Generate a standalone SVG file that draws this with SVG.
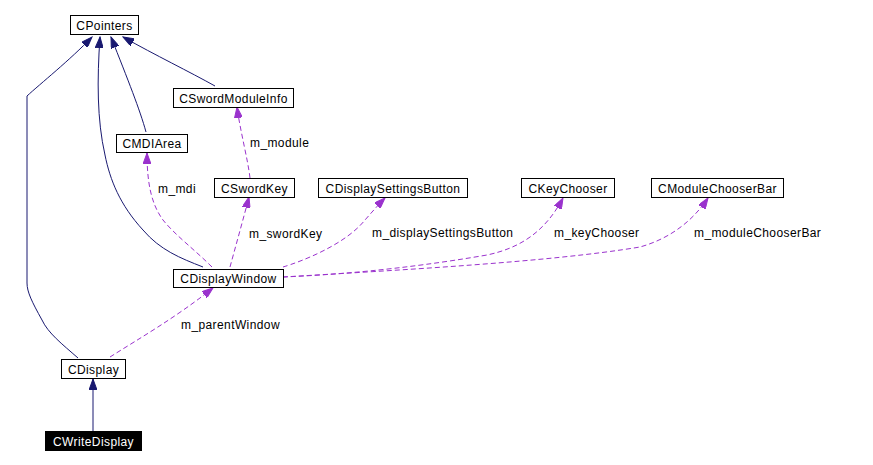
<svg xmlns="http://www.w3.org/2000/svg" width="873" height="465" viewBox="0 0 873 465">
<style>
text{font-family:"Liberation Sans",Arial,sans-serif;font-size:12px;letter-spacing:0.4px;fill:#000}
.box rect{fill:#fff;stroke:#000;stroke-width:1}
.box text{text-anchor:middle}
.inh{fill:none;stroke:#191970;stroke-width:1}
.use{fill:none;stroke:#9a32cd;stroke-width:1;stroke-dasharray:5,3}
</style>
<defs>
<marker id="an" markerUnits="userSpaceOnUse" markerWidth="12" markerHeight="8" refX="11" refY="4" orient="auto"><path d="M0,0 L11,4 L0,8 z" fill="#191970" stroke="#191970" stroke-width="1"/></marker>
<marker id="ap" markerUnits="userSpaceOnUse" markerWidth="12" markerHeight="8" refX="11" refY="4" orient="auto"><path d="M0,0 L11,4 L0,8 z" fill="#9a32cd" stroke="#9a32cd" stroke-width="1" stroke-dasharray="none"/></marker>
</defs>
<rect width="873" height="465" fill="#fff"/>
<g id="connectors">
<path class="inh" marker-end="url(#an)" d="M78,358 C 62,344 48,333 42,320 C 32,302 27,292 27,283 L27,96 C 40,84 70,60 92,37"/>
<path class="inh" marker-end="url(#an)" d="M203,267 C 180,258 160,250 143,230 C 120,205 110,180 105,155 C 97,120 97,80 100,37"/>
<path class="inh" marker-end="url(#an)" d="M146,132 C 140,110 128,80 111,37"/>
<path class="inh" marker-end="url(#an)" d="M215,86 C 190,72 155,55 123,37"/>
<path class="inh" marker-end="url(#an)" d="M93,431 L93,379"/>
<path class="use" marker-end="url(#ap)" d="M212,267 C 195,250 175,235 163,220 C 152,205 147,185 147,153"/>
<path class="use" marker-end="url(#ap)" d="M230,267 C 236,245 243,220 249,197"/>
<path class="use" marker-end="url(#ap)" d="M250,178 C 248,160 240,130 237,107"/>
<path class="use" marker-end="url(#ap)" d="M283,267 C 300,262 345,245 365,220 C 372,212 380,203 385,198"/>
<path class="use" marker-end="url(#ap)" d="M283,277 C 330,275 400,270 487,255 C 520,248 545,232 563,198"/>
<path class="use" marker-end="url(#ap)" d="M283,277 C 400,270 550,262 640,247 C 665,240 690,225 708,198"/>
<path class="use" marker-end="url(#ap)" d="M110,357 C 140,338 175,318 213,288"/>
<text x="158" y="193">m_mdi</text>
<text x="249" y="238">m_swordKey</text>
<text x="250" y="147">m_module</text>
<text x="372" y="237">m_displaySettingsButton</text>
<text x="554" y="237">m_keyChooser</text>
<text x="694" y="237">m_moduleChooserBar</text>
<text x="181" y="329">m_parentWindow</text>
</g>
<g id="CPointers" class="box"><rect x="70.5" y="15.5" width="68" height="19"/><text x="104.5" y="29.5">CPointers</text></g>
<g id="CSwordModuleInfo" class="box"><rect x="173.5" y="88.5" width="120" height="19"/><text x="233.5" y="102.5">CSwordModuleInfo</text></g>
<g id="CMDIArea" class="box"><rect x="116.5" y="134.5" width="71" height="18"/><text x="152" y="148">CMDIArea</text></g>
<g id="CSwordKey" class="box"><rect x="214.5" y="178.5" width="80" height="19"/><text x="254.5" y="192.5">CSwordKey</text></g>
<g id="CDisplaySettingsButton" class="box"><rect x="318.5" y="178.5" width="149" height="19"/><text x="393" y="192.5">CDisplaySettingsButton</text></g>
<g id="CKeyChooser" class="box"><rect x="521.5" y="178.5" width="93" height="19"/><text x="568" y="192.5">CKeyChooser</text></g>
<g id="CModuleChooserBar" class="box"><rect x="651.5" y="178.5" width="132" height="19"/><text x="717.5" y="192.5">CModuleChooserBar</text></g>
<g id="CDisplayWindow" class="box"><rect x="173.5" y="269.5" width="110" height="18"/><text x="228.5" y="283">CDisplayWindow</text></g>
<g id="CDisplay" class="box"><rect x="61.5" y="359.5" width="64" height="19"/><text x="93.5" y="373.5">CDisplay</text></g>
<g id="CWriteDisplay"><rect x="45" y="431" width="97" height="20" fill="#000"/><text x="93.5" y="445.5" text-anchor="middle" style="fill:#fff">CWriteDisplay</text></g>
</svg>
